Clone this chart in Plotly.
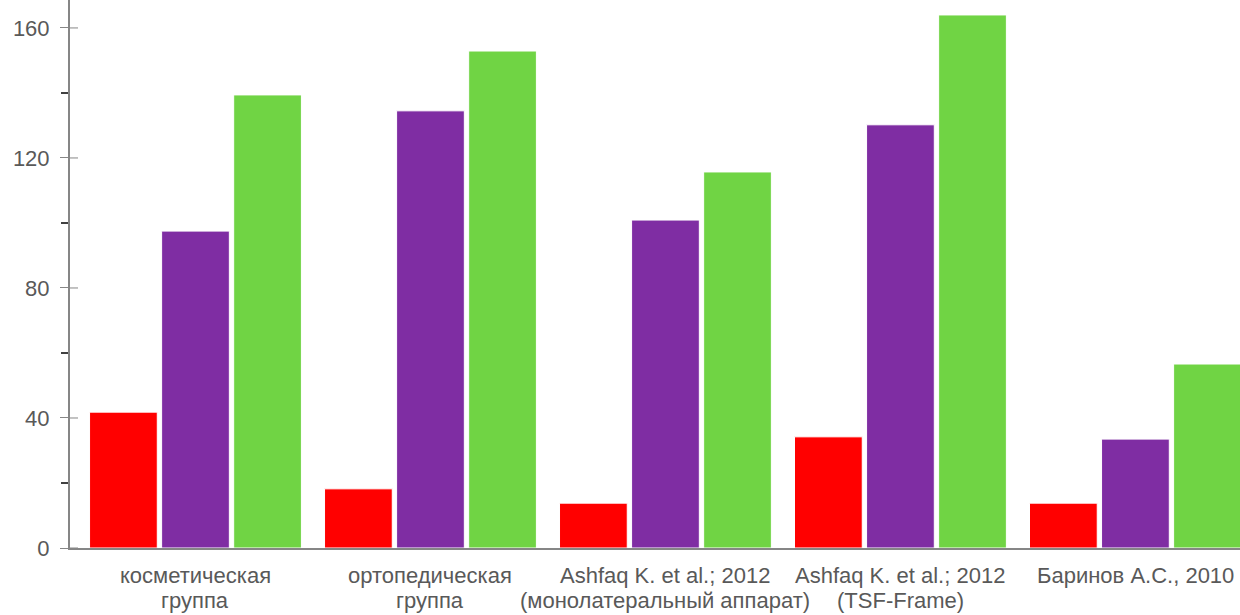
import plotly.graph_objects as go

categories = ["косметическая", "ортопедическая", "Ashfaq K. et al.; 2012", "Ashfaq K. et al.; 2012", "Баринов А.С., 2010"]
categories_line2 = ["группа", "группа", "(монолатеральный аппарат)", "(TSF-Frame)", ""]
series_red = [41.8, 18.2, 13.8, 34.2, 13.8]
series_purple = [97.5, 134.5, 100.9, 130.2, 33.5]
series_green = [139.4, 152.9, 115.7, 164.0, 56.6]
y_ticks = [0, 40, 80, 120, 160]

x = list(range(len(categories)))
fig = go.Figure()
for vals, col in [(series_red, "#FF0000"), (series_purple, "#7F2DA3"), (series_green, "#70D444")]:
    fig.add_trace(go.Bar(x=x, y=vals, marker=dict(color=col, line=dict(color="white", width=1)),
                         showlegend=False))

FONT = "Liberation Sans"
fig.update_layout(
    width=1240, height=615,
    margin=dict(l=70, r=0, t=0, b=67),
    plot_bgcolor="white", paper_bgcolor="white",
    barmode="group", bargap=0.08, bargroupgap=0.06,
    font=dict(family=FONT, size=22, color="#595959"),
)
fig.update_xaxes(range=[-0.534, 4.445], showticklabels=False, showgrid=False, zeroline=False,
                 showline=True, linecolor="#868686", linewidth=2, ticks="")
fig.update_yaxes(range=[0, 168.6], tickvals=y_ticks, showgrid=False, zeroline=False,
                 showline=True, linecolor="#868686", linewidth=2,
                 ticks="outside", ticklen=8, tickcolor="#868686", tickwidth=1,
                 ticklabelstandoff=6,
                 minor=dict(tickvals=[20, 60, 100, 140], ticks="outside", ticklen=7, tickcolor="#404040", tickwidth=2),
                 tickfont=dict(family=FONT, size=22, color="#595959"))
# inner half of major (crossing) ticks
for v in y_ticks:
    fig.add_shape(type="line", xref="paper", yref="y", x0=0, x1=8 / 1170, y0=v, y1=v,
                  line=dict(color="#868686", width=1))
for i, (l1, l2) in enumerate(zip(categories, categories_line2)):
    fig.add_annotation(x=i, y=0, xref="x", yref="paper", text=l1, showarrow=False,
                       yanchor="middle", yshift=-27, font=dict(family=FONT, size=22, color="#595959"))
    if l2:
        fig.add_annotation(x=i, y=0, xref="x", yref="paper", text=l2, showarrow=False,
                           yanchor="middle", yshift=-52, font=dict(family=FONT, size=22, color="#595959"))

fig.write_html("out.html")
